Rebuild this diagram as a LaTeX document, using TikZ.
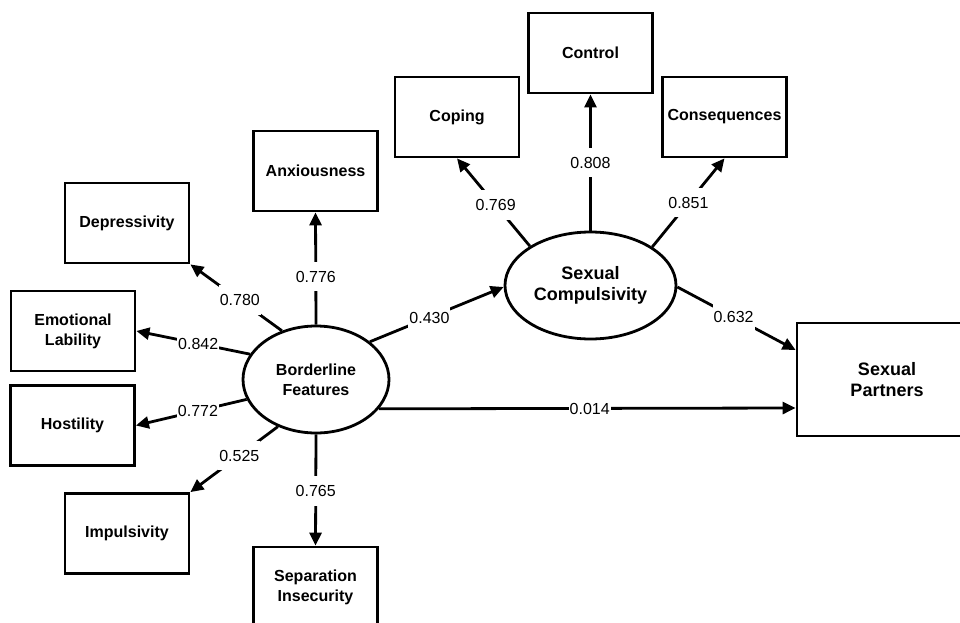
\documentclass[tikz,border=0pt]{standalone}
\usepackage{fontspec}
\setmainfont{Liberation Sans}
\usetikzlibrary{arrows.meta,shapes.geometric}
\begin{document}
\begin{tikzpicture}[x=1pt,y=-1pt,
  every node/.style={font=\fontsize{16}{20}\selectfont},
  box/.style={draw,line width=2.8pt,minimum width=124pt,minimum height=80pt,inner sep=0pt,align=center,font=\fontsize{16}{20}\selectfont\bfseries},
  lat/.style={draw,ellipse,line width=2.8pt,inner sep=0pt,align=center,font=\fontsize{16}{20}\selectfont\bfseries},
  big/.style={font=\fontsize{18}{21.5}\selectfont\bfseries},
  link/.style={line width=2.8pt,-{Triangle[length=13pt,width=12pt]}},
  coef/.style={fill=white,inner xsep=1pt,inner ysep=9pt,text height=11.5pt,text depth=0pt}
]
\useasboundingbox (0,0) rectangle (960,623);
\clip (0,0) rectangle (960,623);

\node[box] (dep) at (127,223) {Depressivity};
\node[box] (emo) at (73,331) {Emotional\\Lability};
\node[box] (hos) at (72.5,425.5) {Hostility};
\node[box] (imp) at (127,533.5) {Impulsivity};
\node[box] (anx) at (315.5,171) {Anxiousness};
\node[box] (sep) at (315.5,587) {Separation\\Insecurity};
\node[box] (cop) at (457,117) {Coping};
\node[box] (con) at (590.5,53) {Control};
\node[box] (cqs) at (724.5,117) {Consequences};
\node[box,big,minimum width=180pt,minimum height=113pt] (sp) at (887,379.5) {Sexual\\Partners};
\node[lat,minimum width=146pt,minimum height=107pt] (bf) at (316,379.5) {Borderline\\Features};
\node[lat,big,minimum width=171pt,minimum height=107pt] (sc) at (590.5,285.5) {Sexual\\Compulsivity};

\draw[link] (bf.90) -- node[coef,pos=0.43]{0.776} (anx.south);
\draw[link] (bf.125.6) -- node[coef,pos=0.46]{0.780} (dep.south east);
\draw[link] (bf.159.9) -- node[coef,pos=0.456]{0.842} (emo.east);
\draw[link] (bf.196.5) -- node[coef,pos=0.44]{0.772} (hos.east);
\draw[link] (bf.231) -- node[coef,pos=0.44]{0.525} (imp.north east);
\draw[link] (bf.270) -- node[coef,pos=0.51]{0.765} (sep.north);
\draw[link] (bf.35.8) -- node[coef,pos=0.445]{0.430} (sc.181);
\draw[link] (bf.335.3) -- node[coef,pos=0.506]{0.014} ([yshift=-28.5pt]sp.west);

\draw[link] (sc.147.5) -- node[coef,pos=0.47]{0.769} (cop.south);
\draw[link] (sc.90) -- node[coef,pos=0.5]{0.808} (con.south);
\draw[link] (sc.32) -- node[coef,pos=0.5]{0.851} (cqs.south);
\draw[link] (sc.359) -- node[coef,pos=0.475]{0.632} ([yshift=29.5pt]sp.west);
\end{tikzpicture}
\end{document}
